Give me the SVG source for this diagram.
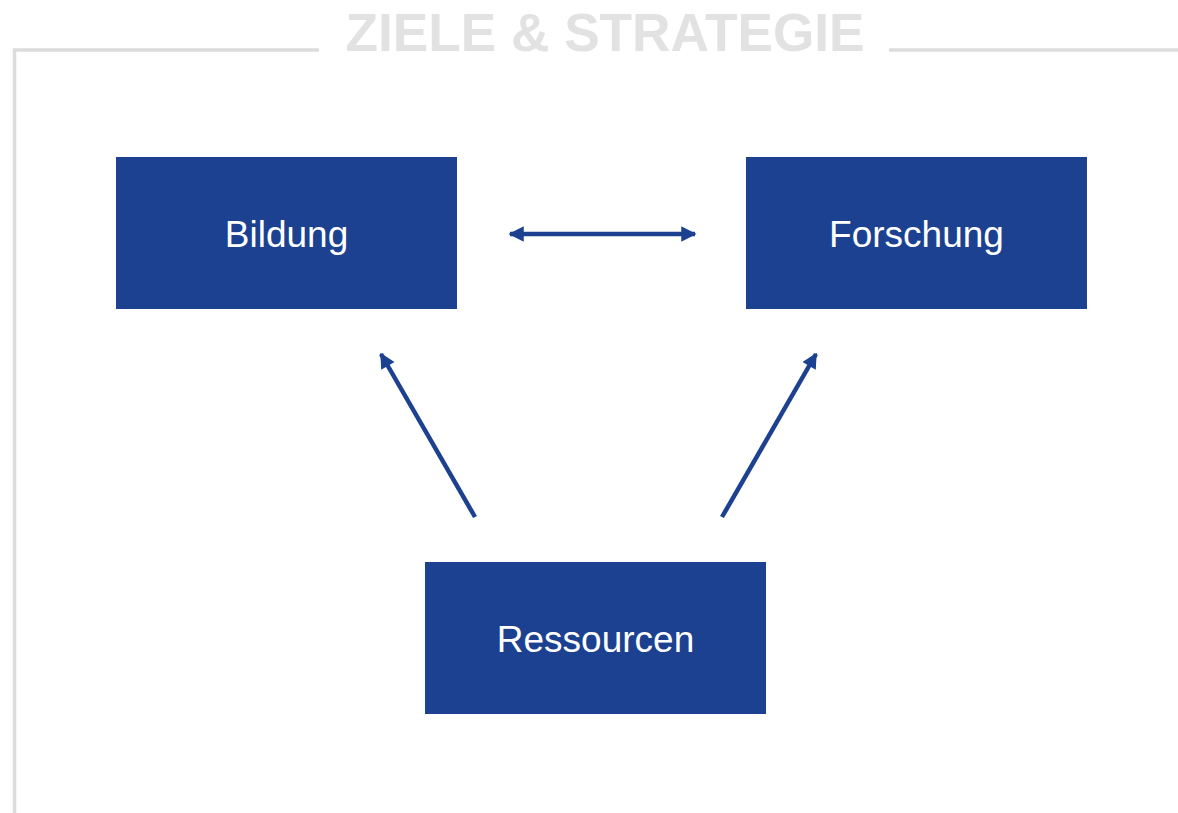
<svg xmlns="http://www.w3.org/2000/svg" width="1178" height="813" viewBox="0 0 1178 813">
<defs>
<style>
.frame{stroke:#dcdcdc;stroke-width:3.5;fill:none}
.title{font-family:"Liberation Sans",Arial,sans-serif;font-weight:bold;font-size:53.5px;fill:#e2e2e2}
.box{fill:#1b4190}
.label{font-family:"Liberation Sans",Arial,sans-serif;font-size:37px;fill:#ffffff;text-anchor:middle}
.conn{stroke:#1b4190;stroke-width:4.5;fill:none}
</style>
<marker id="ah" viewBox="0 0 10 10" refX="9" refY="5" markerWidth="4" markerHeight="3.4" markerUnits="strokeWidth" orient="auto-start-reverse">
<path d="M0,0 L10,5 L0,10 Z" fill="#1b4190"/>
</marker>
</defs>
<g id="frame">
<path class="frame" d="M319,50 H14.5 V813"/>
<path class="frame" d="M889,50 H1178"/>
<text class="title" x="605" y="51" text-anchor="middle" textLength="519" lengthAdjust="spacingAndGlyphs">ZIELE &amp; STRATEGIE</text>
</g>
<g id="connectors">
<line class="conn" x1="510" y1="234" x2="695" y2="234" marker-start="url(#ah)" marker-end="url(#ah)"/>
<line class="conn" x1="475" y1="517" x2="381" y2="354" marker-end="url(#ah)"/>
<line class="conn" x1="722" y1="517" x2="816" y2="354" marker-end="url(#ah)"/>
</g>
<g id="bildung">
<rect class="box" x="116" y="157" width="341" height="152"/>
<text class="label" x="286.5" y="247">Bildung</text>
</g>
<g id="forschung">
<rect class="box" x="746" y="157" width="341" height="152"/>
<text class="label" x="916.5" y="247">Forschung</text>
</g>
<g id="ressourcen">
<rect class="box" x="425" y="562" width="341" height="152"/>
<text class="label" x="595.5" y="652">Ressourcen</text>
</g>
</svg>
